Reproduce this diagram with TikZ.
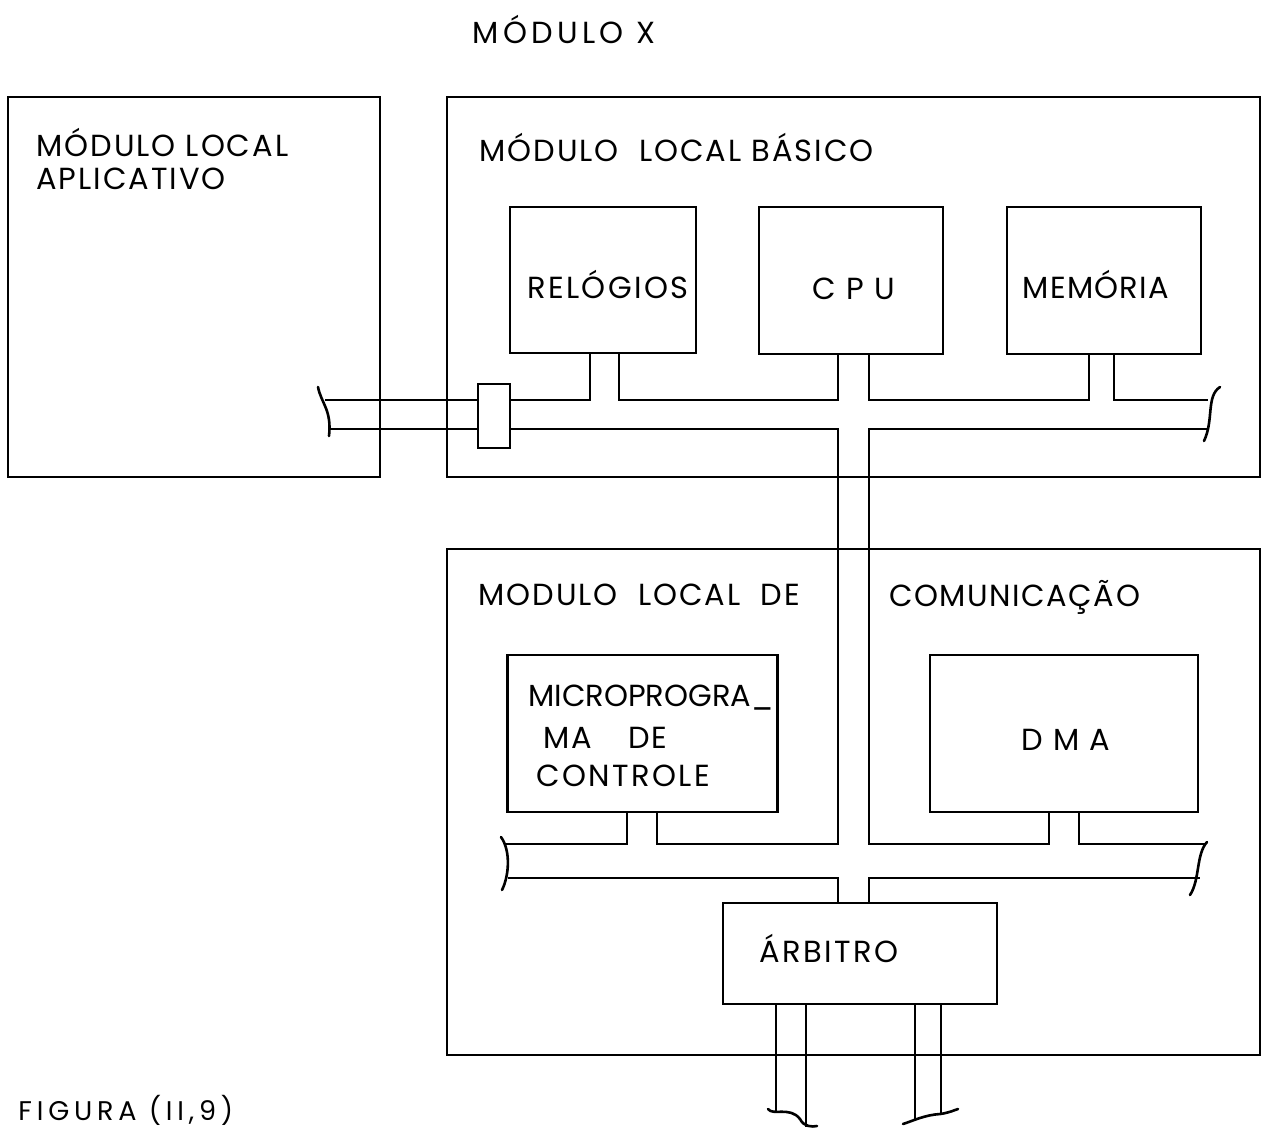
\documentclass[tikz,border=0pt]{standalone}
\usepackage{fontspec}
\setmainfont{Poppins}[LetterSpace=6.5]
\begin{document}
\begin{tikzpicture}[x=1pt,y=-1pt,line width=2.6pt,line cap=butt,
  box/.style={draw,rectangle,inner sep=0pt},
  txt/.style={inner sep=0pt,font=\fontsize{30.5}{34}\selectfont},
  lbl/.style={txt,anchor=base west},
  clbl/.style={txt,anchor=base}]
\useasboundingbox (0,0) rectangle (1269,1128);

% outer modules
\node[box,minimum width=372pt,minimum height=380pt] (apl) at (194,287) {};
\node[box,minimum width=813pt,minimum height=380pt] (bas) at (853.5,287) {};
\node[box,minimum width=813pt,minimum height=506pt] (com) at (853.5,802) {};

% inner boxes
\node[box,minimum width=186pt,minimum height=146pt] (rel) at (603,280) {};
\node[box,minimum width=184pt,minimum height=147pt] (cpu) at (851,280.5) {};
\node[box,minimum width=194pt,minimum height=147pt] (mem) at (1104,280.5) {};
\node[box,minimum width=270pt,minimum height=157pt] (mic) at (642.5,733.5) {};
\node[box,minimum width=268pt,minimum height=157pt] (dma) at (1064,733.5) {};
\node[box,minimum width=274pt,minimum height=101pt] (arb) at (860,953.5) {};
\node[box,minimum width=32pt,minimum height=64pt] (cb) at (494,416) {};

% texts
\node[clbl,font=\fontsize{30.5}{34}\selectfont\addfontfeature{LetterSpace=14}] (tX) at (564,43) {MÓDULO X};
\node[lbl] (tA1) at (35,156) {MÓDULO LOCAL};
\node[lbl] (tA2) at (35,189) {APLICATIVO};
\node[lbl] (tB) at (478,161) {MÓDULO\ \ LOCAL BÁSICO};
\node[clbl,font=\fontsize{30.5}{34}\selectfont\addfontfeature{LetterSpace=8}] (tR) at (608,298) {RELÓGIOS};
\node[clbl] (tC) at (854,299) {C P U};
\node[clbl,font=\fontsize{30.5}{34}\selectfont\addfontfeature{LetterSpace=4}] (tM) at (1096,298) {MEMÓRIA};
\node[lbl] (tD1) at (477,605) {MODULO\ \ LOCAL\ \ DE};
\node[lbl,font=\fontsize{30.5}{34}\selectfont\addfontfeature{LetterSpace=5}] (tD2) at (888,606) {COMUNICAÇÃO};
\node[lbl,font=\fontsize{30.5}{34}\selectfont\addfontfeature{LetterSpace=0}] (tP1) at (527,706) {MICROPROGRA\_};
\node[lbl] (tP2) at (542,748) {MA\hspace{36pt}DE};
\node[lbl,font=\fontsize{30.5}{34}\selectfont\addfontfeature{LetterSpace=8}] (tP3) at (535,786) {CONTROLE};
\node[clbl] (tDM) at (1066,750) {D M A};
\node[lbl,font=\fontsize{30.5}{34}\selectfont\addfontfeature{LetterSpace=8}] (tAr) at (758,962) {ÁRBITRO};
\node[lbl,font=\fontsize{27}{30}\selectfont\addfontfeature{LetterSpace=18}] (tF) at (17,1120) {FIGURA (II,9)};

% upper bus
\coordinate (eA1) at (325,400);
\coordinate (eA2) at (330,429);
\coordinate (eB1) at (1208,400);
\coordinate (eB2) at (1207,429);
\draw (eA1) -- (cb.west |- eA1);
\draw (cb.east |- eA1) -- (590,400) -- (590,0 |- rel.south);
\draw (619,0 |- rel.south) -- (619,400) -- (838,400) -- (838,0 |- cpu.south);
\draw (869,0 |- cpu.south) -- (869,400) -- (1089,400) -- (1089,0 |- mem.south);
\draw (1114,0 |- mem.south) -- (1114,400) -- (eB1);
\draw (eA2) -- (cb.west |- eA2);
\draw (cb.east |- eA2) -- (838,429) -- (838,844) -- (657,844) -- (657,0 |- mic.south);
\draw (627,0 |- mic.south) -- (627,844) -- (505,844);
\draw (eB2) -- (869,429) -- (869,844) -- (1049,844) -- (1049,0 |- dma.south);
\draw (1079,0 |- dma.south) -- (1079,844) -- (1205,844);
\draw (508,878) -- (838,878) -- (838,0 |- arb.north);
\draw (869,0 |- arb.north) -- (869,878) -- (1200,878);

% legs from arbiter
\draw (776,0 |- arb.south) -- (776,1113);
\draw (806,0 |- arb.south) -- (806,1127);
\draw (915,0 |- arb.south) -- (915,1121);
\draw (941,0 |- arb.south) -- (941,1113);

% break marks
\begin{scope}[line width=2.6pt,line cap=round]
\draw (318,387) .. controls (321,403) and (332,410) .. (329,436);
\draw (1220,387) .. controls (1206,396) and (1214,420) .. (1204,441);
\draw (501,837) .. controls (511,851) and (509,876) .. (502,890);
\draw (1207,842) .. controls (1196,854) and (1200,880) .. (1190,895);
\draw (768,1109) .. controls (773,1116) and (790,1106) .. (800,1119) .. controls (804,1127) and (812,1127) .. (817,1126);
\draw (903,1124) .. controls (915,1120) and (925,1115) .. (940,1114) .. controls (948,1113) and (955,1110) .. (958,1109);
\end{scope}
\end{tikzpicture}
\end{document}
